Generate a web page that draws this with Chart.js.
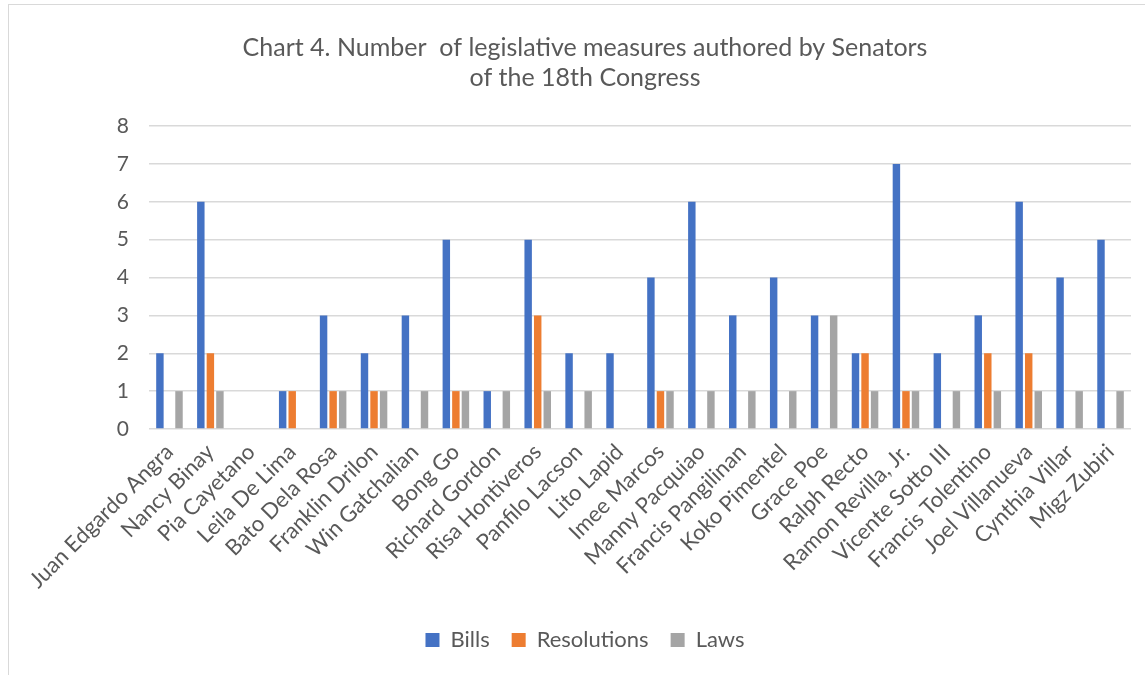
<!DOCTYPE html>
<html>
<head>
<meta charset="utf-8">
<script src="https://cdn.jsdelivr.net/npm/chart.js@4"></script>
<style>
  html, body { margin: 0; padding: 0; background: #fff; }
  #frame { position: absolute; left: 8px; top: 4px; width: 1137px; height: 671px; box-sizing: border-box; border: 1px solid #d9d9d9; border-right: none; border-bottom: none; }
  #frame canvas { display: block; }
</style>
</head>
<body>
<div id="frame"><canvas id="chart"></canvas></div>
<script>
// senators on the x axis
const senators = [
    'Juan Edgardo Angra', 'Nancy Binay', 'Pia Cayetano', 'Leila De Lima', 'Bato Dela Rosa',
    'Franklin Drilon', 'Win Gatchalian', 'Bong Go', 'Richard Gordon', 'Risa Hontiveros',
    'Panfilo Lacson', 'Lito Lapid', 'Imee Marcos', 'Manny Pacquiao', 'Francis Pangilinan',
    'Koko Pimentel', 'Grace Poe', 'Ralph Recto', 'Ramon Revilla, Jr.', 'Vicente Sotto III',
    'Francis Tolentino', 'Joel Villanueva', 'Cynthia Villar', 'Migz Zubiri'
];
const bills       = [2, 6, 0, 1, 3, 2, 3, 5, 1, 5, 2, 2, 4, 6, 3, 4, 3, 2, 7, 2, 3, 6, 4, 5];
const resolutions = [0, 2, 0, 1, 1, 1, 0, 1, 0, 3, 0, 0, 1, 0, 0, 0, 0, 2, 1, 0, 2, 2, 0, 0];
const laws        = [1, 1, 0, 0, 1, 1, 1, 1, 1, 1, 1, 0, 1, 1, 1, 1, 3, 1, 1, 1, 1, 1, 1, 1];
const yTicks = [0, 1, 2, 3, 4, 5, 6, 7, 8];

const FONT = 'Lato, "Open Sans", sans-serif';
const TEXT = '#595959';

const canvas = document.getElementById('chart');
canvas.width = 1136; canvas.height = 670;

new Chart(canvas, {
    type: 'bar',
    data: {
        labels: senators,
        datasets: [
            { label: 'Bills', data: bills, backgroundColor: '#4472C4' },
            { label: 'Resolutions', data: resolutions, backgroundColor: '#ED7D31' },
            { label: 'Laws', data: laws, backgroundColor: '#A5A5A5' }
        ].map(d => ({ ...d, barPercentage: 0.78, categoryPercentage: 0.7, borderWidth: 0 }))
    },
    options: {
        responsive: false,
        animation: false,
        // extra left padding pushes title/legend right; y axis width shrinks to keep plot in place
        layout: { padding: { left: 30, right: 14, top: 0, bottom: 14 } },
        plugins: {
            title: {
                display: true,
                text: ['Chart 4. Number  of legislative measures authored by Senators', 'of the 18th Congress'],
                color: TEXT,
                font: { family: FONT, size: 25, weight: 'normal', lineHeight: 1.2 },
                padding: { top: 28, bottom: 33 }
            },
            legend: {
                position: 'bottom',
                labels: {
                    color: TEXT,
                    font: { family: FONT, size: 22 },
                    boxWidth: 14, boxHeight: 14,
                    padding: 22
                }
            },
            tooltip: { enabled: false }
        },
        scales: {
            x: {
                grid: { display: false },
                border: { display: false },
                ticks: {
                    color: TEXT,
                    font: { family: FONT, size: 22 },
                    maxRotation: 45, minRotation: 45,
                    autoSkip: false,
                    padding: 2
                },
                afterFit(scale) { scale.height = 178; }
            },
            y: {
                min: 0, max: 8,
                afterBuildTicks(scale) { scale.ticks = yTicks.map(v => ({ value: v })); },
                grid: { color: '#d9d9d9', lineWidth: 1.5, drawTicks: false },
                border: { display: false },
                ticks: {
                    color: TEXT,
                    font: { family: FONT, size: 21 },
                    padding: 20
                },
                afterFit(scale) { scale.width = 110; }
            }
        }
    }
});
</script>
</body>
</html>
